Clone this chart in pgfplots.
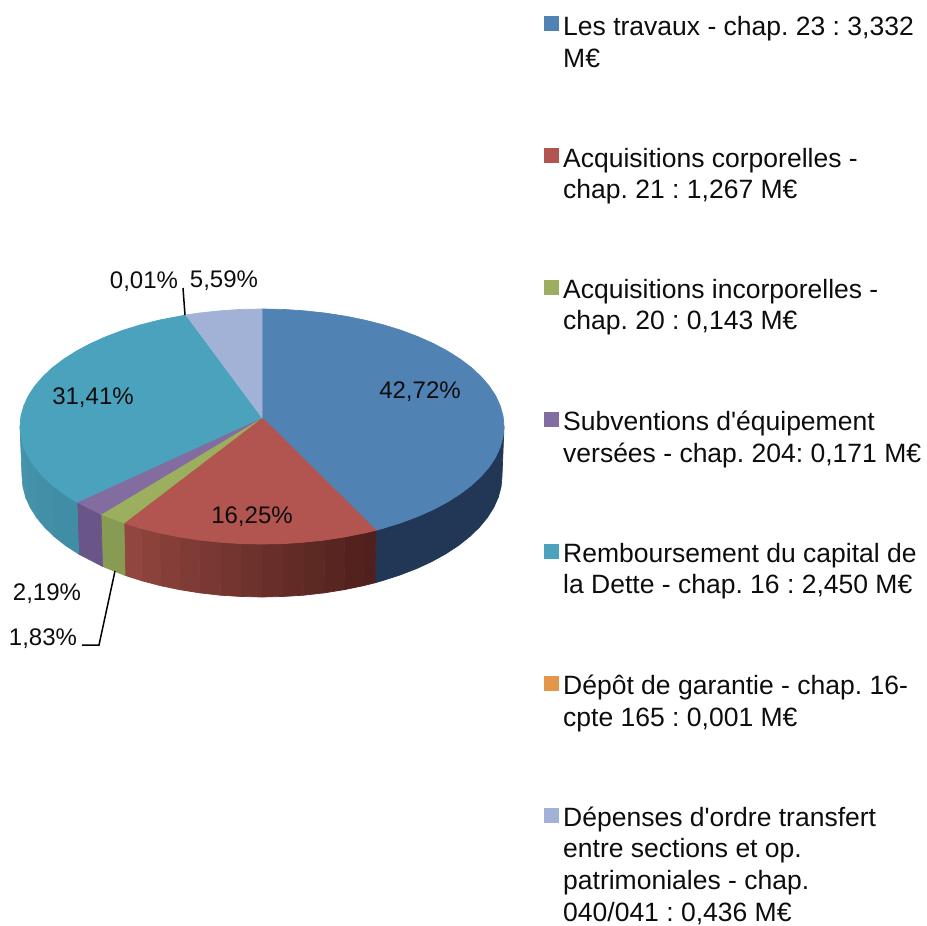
\documentclass[border=0pt]{standalone}
\usepackage{fontspec}
\defaultfontfeatures[\rmfamily]{}
\setmainfont{Liberation Sans}
\usepackage{pgfplots}
\pgfplotsset{compat=1.18}
\frenchspacing
\newcommand\band[2]{\addplot[fill={rgb,255:#1},draw={rgb,255:#1},line width=0.7pt] coordinates {#2} -- cycle;}
\newcommand\lab[3]{\node[anchor=base,inner sep=0pt] at (axis cs:#1,#2) {\frenchspacing #3};}
\newcommand\leg[2]{\node[anchor=base west,inner sep=0pt,font=\fontsize{26.5}{30}\selectfont] at (axis cs:563,#1) {\frenchspacing #2};}
\begin{document}
\begin{tikzpicture}
\begin{axis}[scale only axis,width=927pt,height=926pt,xmin=0,xmax=927,ymin=0,ymax=926,y dir=reverse,hide axis,clip=false,
  nodes={font=\fontsize{24}{28}\selectfont,text=black!95}]
\path[use as bounding box] (axis cs:0,0) rectangle (axis cs:927,926);
% side walls
\band{red,33;green,55;blue,85}{(504,426.5)(503.1,436.7)(500.3,446.9)(495.8,456.9)(489.4,466.7)(481.3,476.2)(471.6,485.25)(460.2,493.9)(447.4,502)(433.1,509.6)(417.6,516.5)(400.8,522.8)(383,528.3)(376,530.3)(375,582.8)(382,580.8)(399.7,575.1)(416.3,568.7)(431.7,561.6)(445.8,553.8)(458.6,545.4)(469.8,536.5)(479.5,527.1)(487.5,517.4)(493.8,507.3)(498.4,497)(501.1,486.6)(502,476)}
\band{red,80;green,32;blue,30}{(376,530.3)(364.3,533)(363.4,585.7)(375,582.8)}
\band{red,83;green,34;blue,31}{(364.3,533)(344.8,536.9)(344.1,589.7)(363.4,585.7)}
\band{red,88;green,37;blue,33}{(344.8,536.9)(324.6,540)(324.1,592.9)(344.1,589.7)}
\band{red,93;green,41;blue,35}{(324.6,540)(304,542.2)(303.7,595.2)(324.1,592.9)}
\band{red,98;green,43;blue,38}{(304,542.2)(283.1,543.6)(282.9,596.5)(303.7,595.2)}
\band{red,104;green,46;blue,42}{(283.1,543.6)(262,544)(262,597)(282.9,596.5)}
\band{red,110;green,50;blue,45}{(262,544)(240.9,543.6)(241.1,596.5)(262,597)}
\band{red,116;green,53;blue,48}{(240.9,543.6)(220,542.2)(220.3,595.2)(241.1,596.5)}
\band{red,122;green,56;blue,51}{(220,542.2)(199.4,540)(199.9,592.9)(220.3,595.2)}
\band{red,127;green,59;blue,53}{(199.4,540)(179.2,536.9)(179.9,589.7)(199.9,592.9)}
\band{red,133;green,62;blue,56}{(179.2,536.9)(159.7,533)(160.6,585.7)(179.9,589.7)}
\band{red,139;green,66;blue,59}{(159.7,533)(141,528.3)(142,580.8)(160.6,585.7)}
\band{red,146;green,70;blue,63}{(141,528.3)(124,523)(125,575.4)(142,580.8)}
\band{red,135;green,155;blue,82}{(124,523)(101,514.2)(102.5,566.4)(125,575.4)}
\band{red,105;green,85;blue,135}{(101,514.2)(77,502.3)(78.6,554)(102.5,566.4)}
\band{red,64;green,142;blue,166}{(77,502.3)(63.8,493.9)(52.4,485.25)(54.2,536.5)(65.4,545.4)(78.6,554)}
\band{red,66;green,144;blue,168}{(52.4,485.25)(42.7,476.2)(34.6,466.7)(36.5,517.4)(44.5,527.1)(54.2,536.5)}
\band{red,68;green,146;blue,170}{(34.6,466.7)(28.2,456.9)(23.7,446.9)(25.6,497)(30.2,507.3)(36.5,517.4)}
\band{red,70;green,148;blue,172}{(23.7,446.9)(20.9,436.7)(20,426.5)(22,476)(22.9,486.6)(25.6,497)}
% top faces
\band{red,80;green,130;blue,180}{(262,417.6)(262,309)(283.1,309.4)(304,310.8)(324.6,313)(344.8,316.1)(364.3,320)(383,324.7)(400.8,330.2)(417.6,336.5)(433.1,343.4)(447.4,351)(460.2,359.1)(471.6,367.75)(481.3,376.8)(489.4,386.3)(495.8,396.1)(500.3,406.1)(503.1,416.3)(504,426.5)(503.1,436.7)(500.3,446.9)(495.8,456.9)(489.4,466.7)(481.3,476.2)(471.6,485.25)(460.2,493.9)(447.4,502)(433.1,509.6)(417.6,516.5)(400.8,522.8)(383,528.3)(376,530.3)}
\band{red,178;green,85;blue,80}{(262,417.6)(376,530.3)(364.3,533)(344.8,536.9)(324.6,540)(304,542.2)(283.1,543.6)(262,544)(240.9,543.6)(220,542.2)(199.4,540)(179.2,536.9)(159.7,533)(141,528.3)(124,523)}
\band{red,155;green,175;blue,95}{(262,417.6)(124,523)(101,514.2)}
\band{red,130;green,108;blue,160}{(262,417.6)(101,514.2)(77,502.3)}
\band{red,74;green,162;blue,188}{(262,417.6)(77,502.3)(63.8,493.9)(52.4,485.25)(42.7,476.2)(34.6,466.7)(28.2,456.9)(23.7,446.9)(20.9,436.7)(20,426.5)(20.9,416.3)(23.7,406.1)(28.2,396.1)(34.6,386.3)(42.7,376.8)(52.4,367.75)(63.8,359.1)(76.6,351)(90.9,343.4)(106.4,336.5)(123.2,330.2)(141,324.7)(159.7,320)(186,315)}
\band{red,162;green,178;blue,214}{(262,417.6)(186,315)(199.4,313)(220,310.8)(240.9,309.4)(262,309)}
% leaders
\addplot[black,line width=1.5pt] coordinates {(183,288)(185,315)};
\addplot[black,line width=1.5pt] coordinates {(82,645)(99,645)(115,571)};
% data labels
\lab{420}{398}{42,72\%}
\lab{252}{523}{16,25\%}
\lab{93}{404}{31,41\%}
\lab{224}{287}{5,59\%}
\lab{144}{288}{0,01\%}
\lab{47}{600}{2,19\%}
\lab{43}{645}{1,83\%}
% legend
\band{red,80;green,130;blue,180}{(544,16)(558,16)(558,30)(544,30)}
\band{red,178;green,85;blue,80}{(544,148)(558,148)(558,162)(544,162)}
\band{red,155;green,175;blue,95}{(544,280)(558,280)(558,294)(544,294)}
\band{red,130;green,108;blue,160}{(544,412)(558,412)(558,426)(544,426)}
\band{red,74;green,162;blue,188}{(544,544)(558,544)(558,558)(544,558)}
\band{red,228;green,150;blue,75}{(544,676)(558,676)(558,690)(544,690)}
\band{red,162;green,178;blue,214}{(544,808)(558,808)(558,822)(544,822)}
\leg{35}{Les travaux - chap. 23 : 3,332}
\leg{67}{M€}
\leg{167}{Acquisitions corporelles -}
\leg{198}{chap. 21 : 1,267 M€}
\leg{298}{Acquisitions incorporelles -}
\leg{329}{chap. 20 : 0,143 M€}
\leg{430}{Subventions d'équipement}
\leg{462}{versées - chap. 204: 0,171 M€}
\leg{562}{Remboursement du capital de}
\leg{593}{la Dette - chap. 16 : 2,450 M€}
\leg{694}{Dépôt de garantie - chap. 16-}
\leg{726}{cpte 165 : 0,001 M€}
\leg{826}{Dépenses d'ordre transfert}
\leg{857}{entre sections et op.}
\leg{889}{patrimoniales - chap.}
\leg{921}{040/041 : 0,436 M€}
\end{axis}
\end{tikzpicture}
\end{document}
